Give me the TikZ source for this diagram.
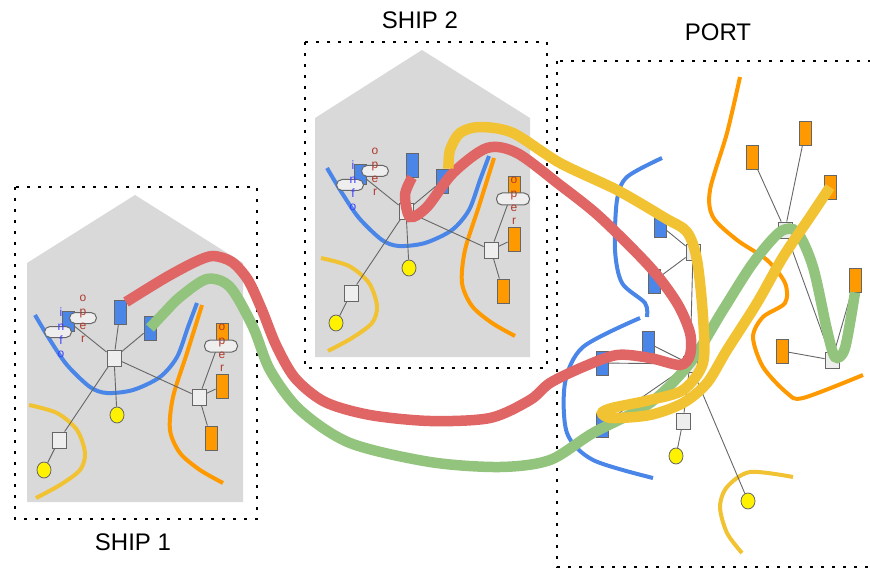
\documentclass[tikz,border=0pt]{standalone}
\usepackage{fontspec}
\setmainfont{Liberation Sans}
\setsansfont{Liberation Sans}
\usetikzlibrary{shapes.geometric}

\definecolor{housegray}{HTML}{D9D9D9}
\definecolor{boxblue}{HTML}{4A86E8}
\definecolor{boxorange}{HTML}{FF9900}
\definecolor{boxline}{HTML}{666666}
\definecolor{sqfill}{HTML}{EEEEEE}
\definecolor{lineyellow}{HTML}{F1C232}
\definecolor{linered}{HTML}{E06666}
\definecolor{linegreen}{HTML}{93C47D}
\definecolor{infoblue}{HTML}{3D3DFF}
\definecolor{operred}{HTML}{B03A2E}

\begin{document}
\begin{tikzpicture}[x=1pt,y=-1pt,font=\sffamily]

	\tikzstyle{zone}=[line width=2.8pt,dash pattern=on 2.8pt off 8.2pt]
	\tikzstyle{title}=[font=\fontsize{24}{28}\selectfont]
	\tikzstyle{sq}=[draw=boxline,fill=sqfill,line width=0.8pt,minimum width=14pt,minimum height=16pt,inner sep=0pt]
	\tikzstyle{bbox}=[draw=boxline,fill=boxblue,line width=0.8pt,minimum width=12pt,minimum height=24pt,inner sep=0pt]
	\tikzstyle{obox}=[draw=boxline,fill=boxorange,line width=0.8pt,minimum width=12pt,minimum height=24pt,inner sep=0pt]
	\tikzstyle{ydot}=[ellipse,draw=boxline,fill=yellow,line width=0.8pt,minimum width=14pt,minimum height=16pt,inner sep=0pt]
	\tikzstyle{pill}=[draw=boxline,fill=sqfill,line width=1pt,rounded corners=5.5pt,minimum width=27pt,minimum height=11pt,inner sep=0pt]
	\tikzstyle{vtext}=[align=center,inner sep=0pt,font=\fontsize{12}{13.7}\selectfont]
	\tikzstyle{edge}=[draw=boxline,line width=0.9pt]
	\tikzstyle{thin}=[line width=4pt]
	\tikzstyle{fat}=[line width=10.5pt]

	\useasboundingbox (0,0) rectangle (870,572);

	% the two ships
	\fill[housegray] (27,502) -- (27,263) -- (135,195) -- (243,263) -- (243,502) -- cycle;
	\fill[housegray] (315,357) -- (315,118) -- (422,50) -- (530,118) -- (530,357) -- cycle;

	\draw[zone] (15,187) rectangle (257,519);
	\draw[zone] (305,42) rectangle (547,368);
	\draw[zone] (557,61) rectangle (890,567);

	\node[title] (ship1) at (133,542) {SHIP 1};
	\node[title] (ship2) at (420,20) {SHIP 2};
	\node[title] (port) at (718,32) {PORT};

	\foreach \s/\dx/\dy in {1/0/0,2/292/-147} {
	\begin{scope}[shift={(\dx,\dy)}]
		\draw[thin,boxblue] plot[smooth] coordinates {(35,315) (50,340) (67,365) (90,387) (107,393) (133,390) (160,377) (177,357) (188,327) (197,303)};
		\draw[thin,boxorange] plot[smooth] coordinates {(202,305) (187,353) (173,397) (170,430) (180,453) (200,470) (223,483)};
		\draw[thin,lineyellow] plot[smooth] coordinates {(29,405) (57,413) (77,430) (85,453) (80,470) (60,485) (36,498)};

		\node[sq] (hub\s) at (114,358) {};
		\node[bbox] (bt\s) at (120,312) {};
		\node[bbox] (bm\s) at (150,328) {};
		\node[bbox,minimum height=20pt] (bi\s) at (68,321) {};
		\node[ydot] (yc\s) at (117,415) {};
		\node[sq] (ll\s) at (59,440) {};
		\node[ydot] (yl\s) at (44,470) {};
		\node[sq] (rh\s) at (199,397) {};
		\node[obox,minimum height=22pt] (ot\s) at (222,334) {};
		\node[obox] (om\s) at (222,386) {};
		\node[obox] (ob\s) at (211,438) {};

		\draw[edge] (hub\s) -- (bt\s);
		\draw[edge] (hub\s) -- (bm\s);
		\draw[edge] (hub\s) -- (bi\s);
		\draw[edge] (hub\s) -- (yc\s);
		\draw[edge] (hub\s) -- (ll\s);
		\draw[edge] (ll\s) -- (yl\s);
		\draw[edge] (hub\s) -- (rh\s);
		\draw[edge] (rh\s) -- (ot\s);
		\draw[edge] (rh\s) -- (om\s);
		\draw[edge] (rh\s) -- (ob\s);

		\node[pill] (pi\s) at (58,332) {};
		\node[pill] (po\s) at (83,318) {};
		\node[pill,minimum width=33pt,minimum height=12pt] (pr\s) at (221,346) {};
		\node[vtext,text=infoblue] (info\s) at (61,333) {i\\n\\f\\o};
		\node[vtext,text=operred] (oper\s) at (83,319) {o\\p\\e\\r};
		\node[vtext,text=operred] (operr\s) at (222,348) {o\\p\\e\\r};
	\end{scope}
	}

	% port
	\draw[thin,boxblue] plot[smooth] coordinates {(662,158) (627,177) (617,200) (615,250) (622,283) (645,303) (647,317)};
	\draw[thin,boxblue] plot[smooth] coordinates {(640,318) (583,347) (565,383) (567,433) (593,460) (653,478)};
	\draw[thin,boxorange] plot[smooth] coordinates {(740,77) (727,133) (710,190) (713,217) (737,240) (767,260) (785,283) (785,303) (763,317) (753,337) (763,367) (787,393) (803,398) (863,375)};
	\draw[thin,lineyellow] plot[smooth] coordinates {(793,477) (750,472) (727,487) (720,507) (727,533) (742,553)};

	\node[sq] (ph) at (690,364) {};
	\node[sq] (pa) at (693,252) {};
	\node[bbox] (pb1) at (660,225) {};
	\node[bbox] (pb2) at (654,281) {};
	\node[bbox] (pb3) at (648,343) {};
	\node[bbox] (pb4) at (602,363) {};
	\node[bbox] (pb5) at (602,425) {};
	\node[sq] (pd) at (683,421) {};
	\node[ydot] (pyd) at (676,456) {};
	\node[ydot] (pye) at (748,501) {};
	\node[sq] (qb) at (785,230) {};
	\node[sq] (qc) at (832,360) {};
	\node[obox] (qo1) at (752,157) {};
	\node[obox] (qo2) at (805,133) {};
	\node[obox] (qo3) at (830,187) {};
	\node[obox] (qo4) at (782,351) {};
	\node[obox] (qo5) at (855,280) {};

	\draw[edge] (pa) -- (pb1);
	\draw[edge] (pa) -- (pb2);
	\draw[edge] (pa) -- (ph);
	\draw[edge] (ph) -- (pb3);
	\draw[edge] (ph) -- (pb4);
	\draw[edge] (ph) -- (pb5);
	\draw[edge] (ph) -- (pd);
	\draw[edge] (pd) -- (pyd);
	\draw[edge] (ph) -- (pye);
	\draw[edge] (qb) -- (qo1);
	\draw[edge] (qb) -- (qo2);
	\draw[edge] (qb) -- (qc);
	\draw[edge] (qc) -- (qo4);
	\draw[edge] (qc) -- (qo5);

	% the three routes
	\draw[fat,linegreen] plot[smooth] coordinates {(bm1.center) (165,312) (180,297) (207,279) (230,287) (253,327) (270,370) (300,410) (350,443) (430,462) (500,467) (550,460) (593,433) (650,403) (690,363) (723,310) (753,263) (780,232) (797,232) (813,267) (827,330) (835,357) (845,348) (qo5.south)};
	\draw[fat,linered] plot[smooth] coordinates {(126,302) (165,278) (195,262) (213,256) (232,262) (248,280) (262,310) (276,345) (295,378) (325,402) (370,415) (430,421) (490,418) (530,400) (550,383) (583,367) (617,355) (650,358) (680,365) (690,355) (690,333) (677,303) (650,267) (600,217) (560,185) (517,153) (487,148) (453,173) (427,207) (410,217) (405,195) (bt2.south)};
	\draw[fat,lineyellow] plot[smooth] coordinates {(bm2.north east) (450,150) (460,133) (480,127) (513,133) (560,163) (617,190) (665,218) (687,232) (697,260) (703,317) (703,363) (683,390) (650,400) (612,408) (602,413) (612,418) (650,415) (683,403) (707,383) (727,350) (757,303) (783,257) (810,217) (qo3.center)};

\end{tikzpicture}
\end{document}
